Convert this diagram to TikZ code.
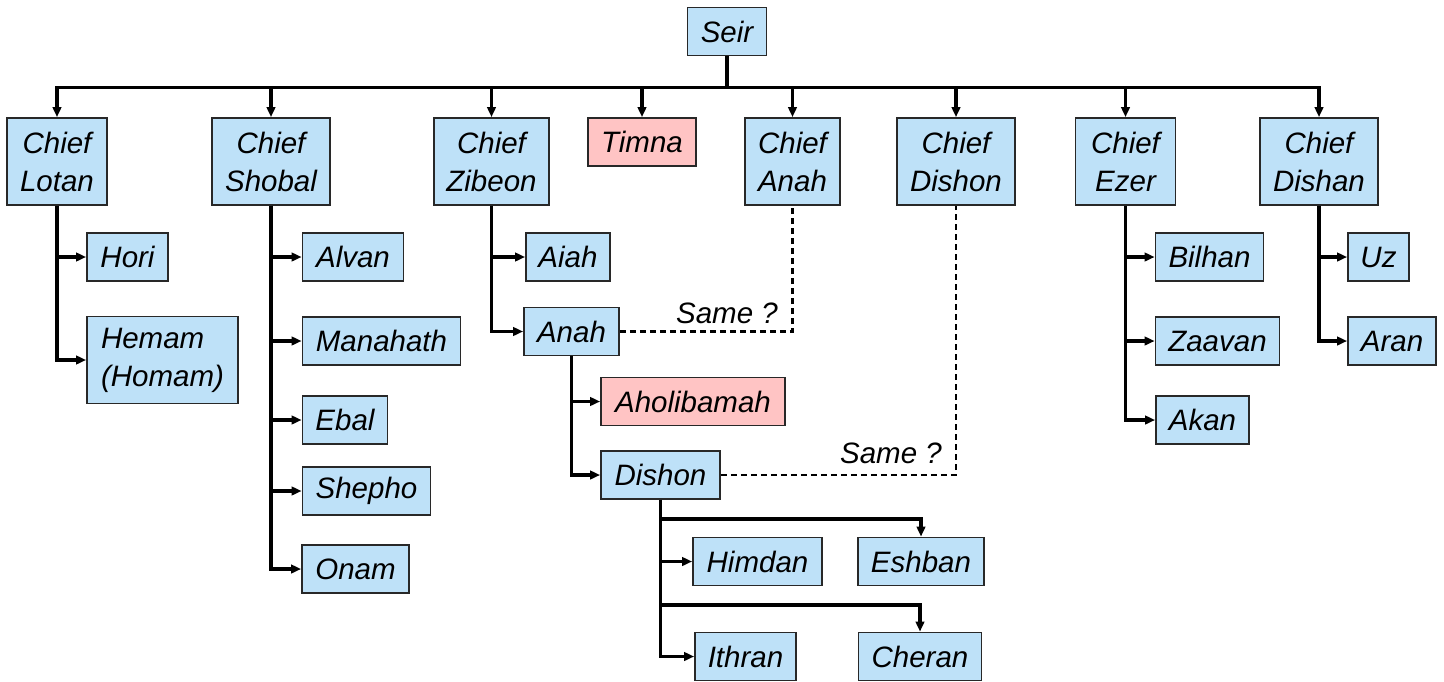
\documentclass[tikz,border=0pt]{standalone}
\usepackage{fontspec}
\setmainfont{Liberation Sans}
\usetikzlibrary{arrows.meta}
\definecolor{boxblue}{RGB}{190,225,248}
\definecolor{boxpink}{RGB}{255,196,196}
\definecolor{edge}{RGB}{40,40,40}
\tikzset{
  box/.style={draw=edge, line width=1.8pt, fill=boxblue, rectangle, inner sep=0pt,
    minimum height=48pt, font=\fontsize{29.5}{38}\selectfont\itshape, align=center},
  tall/.style={minimum height=87pt},
  pink/.style={fill=boxpink},
  conn/.style={line width=3.2pt, draw=black, -{Triangle[length=10pt,width=8.5pt]}},
  plain/.style={line width=3.2pt, draw=black},
  same/.style={line width=2.2pt, dash pattern=on 6pt off 4pt},
  lbl/.style={font=\fontsize{29.5}{38}\selectfont\itshape, inner sep=0pt}
}
\begin{document}
\begin{tikzpicture}[x=1pt,y=-1pt]
\useasboundingbox (0,0) rectangle (1444,681);
% top
\node[box, minimum width=79pt] (seir) at (727,31.5) {Seir};
% chiefs
\node[box, tall, minimum width=100pt] (clotan) at (57,161.5) {Chief\\Lotan};
\node[box, tall, minimum width=118pt] (cshobal) at (271,161.5) {Chief\\Shobal};
\node[box, tall, minimum width=115pt] (czibeon) at (491.5,161.5) {Chief\\Zibeon};
\node[box, pink, minimum width=108pt] (timna) at (642,142) {Timna};
\node[box, tall, minimum width=95pt] (canah) at (792.5,161.5) {Chief\\Anah};
\node[box, tall, minimum width=118pt] (cdishon) at (956,161.5) {Chief\\Dishon};
\node[box, tall, minimum width=100pt] (cezer) at (1125.5,161.5) {Chief\\Ezer};
\node[box, tall, minimum width=118pt] (cdishan) at (1319,161.5) {Chief\\Dishan};
% Lotan children
\node[box, minimum width=81pt] (hori) at (127.5,257) {Hori};
\node[box, tall, minimum width=151pt, align=left] (hemam) at (162.5,360) {Hemam\\(Homam)};
% Shobal children
\node[box, minimum width=101pt] (alvan) at (353,257) {Alvan};
\node[box, minimum width=158pt] (manahath) at (381.5,341) {Manahath};
\node[box, minimum width=85pt] (ebal) at (345,420) {Ebal};
\node[box, minimum width=128pt] (shepho) at (366.5,491) {Shepho};
\node[box, minimum width=107pt] (onam) at (355.5,569) {Onam};
% Zibeon children
\node[box, minimum width=84pt] (aiah) at (568,257) {Aiah};
\node[box, minimum width=95pt] (anah) at (571.5,331.5) {Anah};
\node[box, pink, minimum width=184pt] (aholibamah) at (693,401.5) {Aholibamah};
\node[box, minimum width=119pt] (dishon) at (660.5,475) {Dishon};
\node[box, minimum width=129pt] (himdan) at (757.5,561.5) {Himdan};
\node[box, minimum width=126pt] (eshban) at (921,561.5) {Eshban};
\node[box, minimum width=101pt] (ithran) at (745.5,656.5) {Ithran};
\node[box, minimum width=123pt] (cheran) at (920,656.5) {Cheran};
% Ezer children
\node[box, minimum width=108pt] (bilhan) at (1209.5,257) {Bilhan};
\node[box, minimum width=124pt] (zaavan) at (1217.5,341) {Zaavan};
\node[box, minimum width=93pt] (akan) at (1202.5,420) {Akan};
% Dishan children
\node[box, minimum width=61pt] (uz) at (1378.5,257) {Uz};
\node[box, minimum width=88pt] (aran) at (1392,341) {Aran};
% bus
\draw[plain] (seir.south) -- ++(0,31);
\foreach \c in {clotan,cshobal,czibeon,timna,canah,cdishon,cezer,cdishan}
  \draw[conn] (seir.south) -- ++(0,31) -| (\c.north);
% children
\foreach \c in {hori,hemam} \draw[conn] (clotan.south) |- (\c.west);
\foreach \c in {alvan,manahath,ebal,shepho,onam} \draw[conn] (cshobal.south) |- (\c.west);
\foreach \c in {aiah,anah} \draw[conn] (czibeon.south) |- (\c.west);
\foreach \c in {aholibamah,dishon} \draw[conn] (anah.south) |- (\c.west);
\foreach \c in {himdan,ithran} \draw[conn] (dishon.south) |- (\c.west);
\draw[conn] (dishon.south) -- ++(0,19) -| (eshban.north);
\draw[conn] (dishon.south) -- ++(0,105) -| (cheran.north);
\foreach \c in {bilhan,zaavan,akan} \draw[conn] (cezer.south) |- (\c.west);
\foreach \c in {uz,aran} \draw[conn] (cdishan.south) |- (\c.west);
% same?
\draw[same] (anah.east) -| (canah.south);
\draw[same] (dishon.east) -| (cdishon.south);
\node[lbl, anchor=base east] (same1) at (778,323) {Same ?};
\node[lbl, anchor=base east] (same2) at (942,463) {Same ?};
\end{tikzpicture}
\end{document}
